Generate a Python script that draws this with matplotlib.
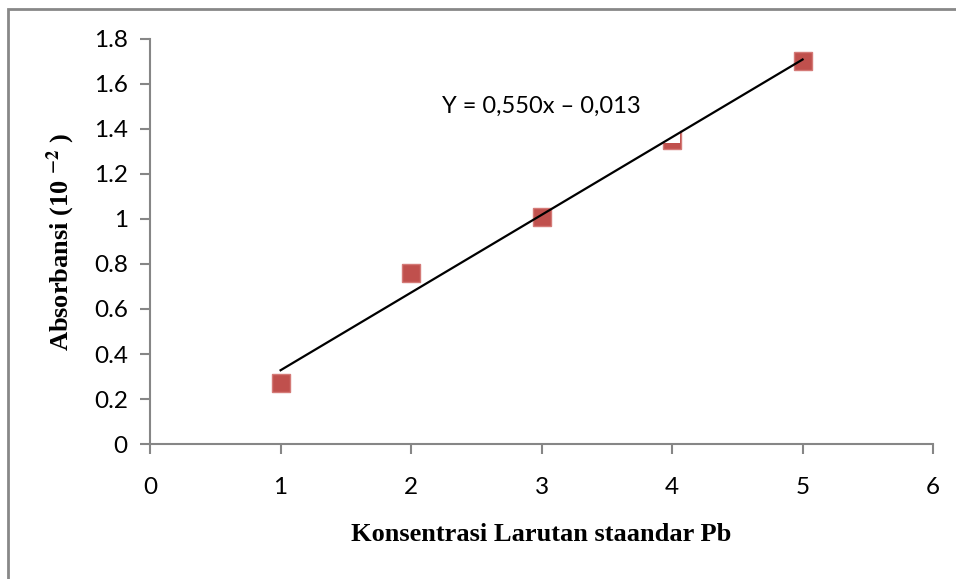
import numpy as np
import matplotlib
matplotlib.use("Agg")
import matplotlib.pyplot as plt
from matplotlib.patches import Rectangle

# standard solution concentration vs absorbance
konsentrasi = np.array([1, 2, 3, 4, 5])
absorbansi = np.array([0.27, 0.76, 1.01, 1.35, 1.70])

x_ticks = [0, 1, 2, 3, 4, 5, 6]
y_ticks = [0, 0.2, 0.4, 0.6, 0.8, 1.0, 1.2, 1.4, 1.6, 1.8]
y_ticklabels = ["0", "0.2", "0.4", "0.6", "0.8", "1", "1.2", "1.4", "1.6", "1.8"]
persamaan = "Y = 0,550x \u2013 0,013"

plt.rcParams['mathtext.fontset'] = 'stix'

fig = plt.figure(figsize=(9.56, 5.79), dpi=100)
ax = fig.add_axes([0.157, 0.233, 0.819, 0.700])

ax.plot(konsentrasi, absorbansi, 's', color='#C0504D', markeredgecolor='#D47A77',
        markersize=13, zorder=2)

# trendline
m, c = np.polyfit(konsentrasi, absorbansi, 1)
xl = np.array([konsentrasi[0], konsentrasi[-1]])
ax.plot(xl, m * xl + c, color='black', lw=1.6, zorder=4)

# the white label box hides the top of the 4th marker
ax.add_patch(Rectangle((2.0, 1.338), 2.06, 0.4, facecolor='white',
                       edgecolor='none', zorder=3))
ax.text(3.0, 1.50, persamaan, fontsize=17, family='Lato', ha='center',
        va='center', zorder=5)

ax.set_xlim(0, 6)
ax.set_ylim(0, 1.8)
ax.set_xticks(x_ticks)
ax.set_yticks(y_ticks)
ax.set_yticklabels(y_ticklabels)

for s in ['top', 'right']:
    ax.spines[s].set_visible(False)
for s in ['left', 'bottom']:
    ax.spines[s].set_color('#868686')
    ax.spines[s].set_linewidth(1.5)
ax.tick_params(direction='out', length=7, width=1.5, color='#868686',
               labelsize=17.5, pad=9)
for lab in ax.get_xticklabels() + ax.get_yticklabels():
    lab.set_family('Lato')
ax.tick_params(axis='x', pad=17)

ax.set_xlabel("Konsentrasi Larutan staandar Pb", family='Liberation Serif',
              fontweight='bold', fontsize=19, labelpad=18)
ax.set_ylabel(r"Absorbansi (10 $^{\mathbf{-2}}$ )", family='Liberation Serif',
              fontweight='bold', fontsize=19, labelpad=12)

# chart frame
fig.add_artist(Rectangle((8 / 956, -0.1), 1.2, 1.1 - 9 / 579, transform=fig.transFigure,
                         fill=False, edgecolor='#888888', lw=2))

fig.savefig("out.png", dpi=100)
